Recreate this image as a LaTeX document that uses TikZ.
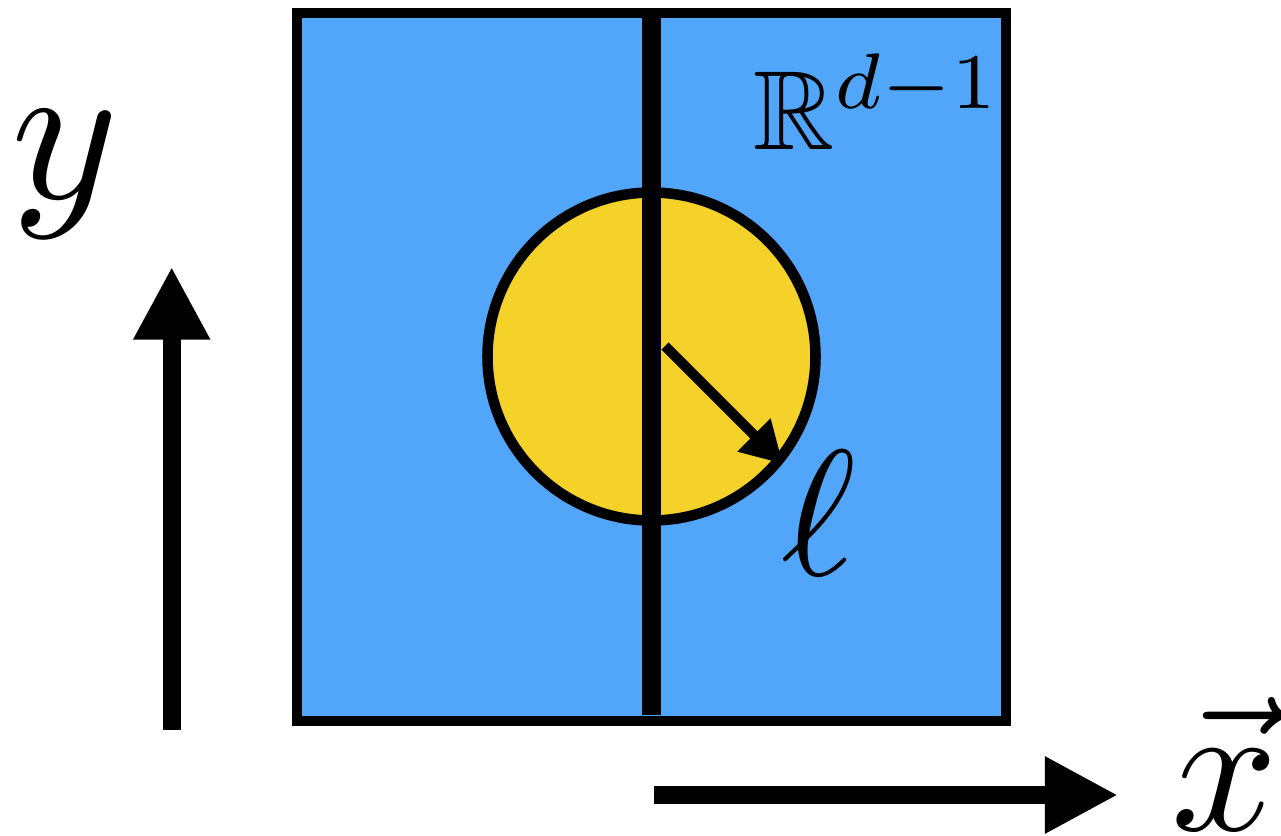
\documentclass[tikz,border=0pt]{standalone}
\usepackage{fix-cm}
\usepackage{amssymb}
\usetikzlibrary{arrows.meta}
\definecolor{planeblue}{RGB}{81,166,250}
\definecolor{ballyellow}{RGB}{245,210,42}
\begin{document}
\begin{tikzpicture}[x=0.01cm,y=-0.01cm,
  axis/.style={line width=5.1pt,-{Triangle[length=7.3mm,width=7.2mm]}},
  lab/.style={inner sep=0pt,anchor=base,transform shape}]
  \useasboundingbox (0,0) rectangle (1281,836);
  % plane and ball
  \fill[planeblue] (297,13) rectangle (1006,721);
  \coordinate (ctr) at (651.5,356.5);
  \filldraw[fill=ballyellow,line width=3pt] (ctr) circle[radius=164];
  \coordinate (wtop) at (651.5,13);
  \coordinate (wbot) at (651.5,715);
  \draw[line width=5.25pt] (wtop) -- (wbot);
  \draw[line width=3pt] (297,13) rectangle (1006,721);
  % radius
  \coordinate (rs) at (665,346);
  \coordinate (re) at (783,464);
  \draw[line width=2.85pt,-{Triangle[length=4.1mm,width=4.4mm]}] (rs) -- (re);
  % axes
  \coordinate (ys) at (171.7,730);
  \coordinate (ye) at (171.7,266.7);
  \draw[axis] (ys) -- (ye);
  \coordinate (xs) at (654,795);
  \coordinate (xe) at (1118,795);
  \draw[axis] (xs) -- (xe);
  % labels
  \node[lab,scale=5.8] (ylab) at (65,198) {$y$};
  \node[lab,scale=5.3] (xlab) at (1225,830) {$\vec{x}$};
  \node[lab,scale=5.1] (ell) at (819,575) {$\ell$};
  \node[lab,anchor=base west,scale=3.2] (space) at (751,149) {$\mathbb{R}^{d-1}$};
\end{tikzpicture}
\end{document}
